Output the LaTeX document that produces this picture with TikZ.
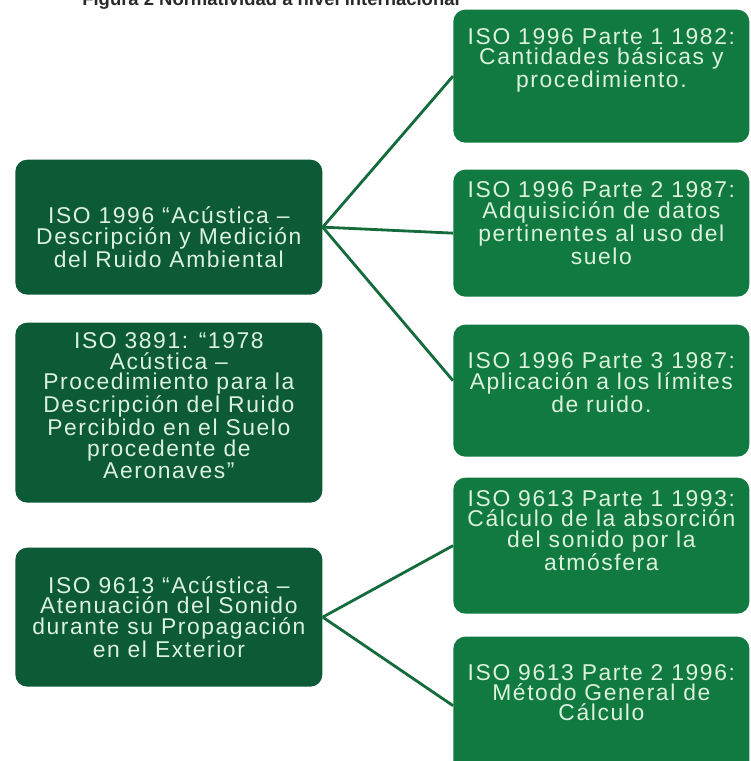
\documentclass[tikz,border=0pt]{standalone}
\usepackage{fontspec}
\setmainfont{Liberation Sans}
\newfontfamily\boxfont[LetterSpace=7]{Liberation Sans}
\usetikzlibrary{positioning}
\definecolor{darkbox}{HTML}{0C5A36}
\definecolor{lightbox}{HTML}{117A40}
\definecolor{boxink}{HTML}{DCF2DE}
\definecolor{linkgreen}{HTML}{146B3C}
\definecolor{titleink}{HTML}{2A2A2A}
\tikzset{
  leftbox/.style={fill=darkbox, rounded corners=2.4mm, minimum width=6.14cm, anchor=south west, inner sep=0pt},
  rightbox/.style={fill=lightbox, rounded corners=2.4mm, minimum width=5.92cm, anchor=south west, inner sep=0pt},
  boxtext/.style={font=\boxfont\fontsize{13}{11.6}\selectfont, text=boxink, align=center},
  connector/.style={draw=linkgreen, line width=1.6pt},
}

\begin{document}
\begin{tikzpicture}[x=1cm,y=1cm]

\path[fill=white, use as bounding box] (0,0) rectangle (15.02,15.22);

% title (cut at the top edge)
\node[font=\bfseries\fontsize{10.5}{12}\selectfont, text=titleink, anchor=base] (title) at (5.42,15.10)
  {Figura 2 Normatividad a nivel internacional};

% -----------------------------------------------------------------------------
% left column
% -----------------------------------------------------------------------------
\node[leftbox, minimum height=2.70cm] (l1) at (0.30,9.32) {};
\node[boxtext] (l1text) at ([yshift=-2mm]l1.center)
  {ISO 1996 “Acústica –\\Descripción y Medición\\del Ruido Ambiental};

\node[leftbox, minimum height=3.60cm] (l2) at (0.30,5.16) {};
\node[boxtext] (l2text) at ([yshift=1.4mm]l2.center)
  {ISO 3891: “1978\\Acústica –\\Procedimiento para la\\Descripción del Ruido\\Percibido en el Suelo\\procedente de\\Aeronaves”};

\node[leftbox, minimum height=2.78cm] (l3) at (0.30,1.48) {};
\node[boxtext] (l3text) at (l3.center)
  {ISO 9613 “Acústica –\\Atenuación del Sonido\\durante su Propagación\\en el Exterior};

% -----------------------------------------------------------------------------
% right column
% -----------------------------------------------------------------------------
\node[rightbox, minimum height=2.66cm] (r1) at (9.06,12.36) {};
\node[boxtext] (r1text) at ([yshift=3.2mm]r1.center)
  {ISO 1996 Parte 1 1982:\\Cantidades básicas y\\procedimiento.};

\node[rightbox, minimum height=2.54cm] (r2) at (9.06,9.28) {};
\node[boxtext] (r2text) at ([yshift=2mm]r2.center)
  {ISO 1996 Parte 2 1987:\\Adquisición de datos\\pertinentes al uso del\\suelo};

\node[rightbox, minimum height=2.64cm] (r3) at (9.06,6.08) {};
\node[boxtext] (r3text) at ([yshift=1.6mm]r3.center)
  {ISO 1996 Parte 3 1987:\\Aplicación a los límites\\de ruido.};

\node[rightbox, minimum height=2.72cm] (r4) at (9.06,2.94) {};
\node[boxtext] (r4text) at ([yshift=3mm]r4.center)
  {ISO 9613 Parte 1 1993:\\Cálculo de la absorción\\del sonido por la\\atmósfera};

\node[rightbox, minimum height=2.76cm] (r5) at (9.06,-0.28) {};
\node[boxtext] (r5text) at ([yshift=2.6mm]r5.center)
  {ISO 9613 Parte 2 1996:\\Método General de\\Cálculo};

% connectors
\draw[connector] (l1.east) -- (r1.west);
\draw[connector] (l1.east) -- (r2.west);
\draw[connector] (l1.east) -- ([yshift=2mm]r3.west);
\draw[connector] (l3.east) -- (r4.west);
\draw[connector] (l3.east) -- (r5.west);

\end{tikzpicture}
\end{document}
